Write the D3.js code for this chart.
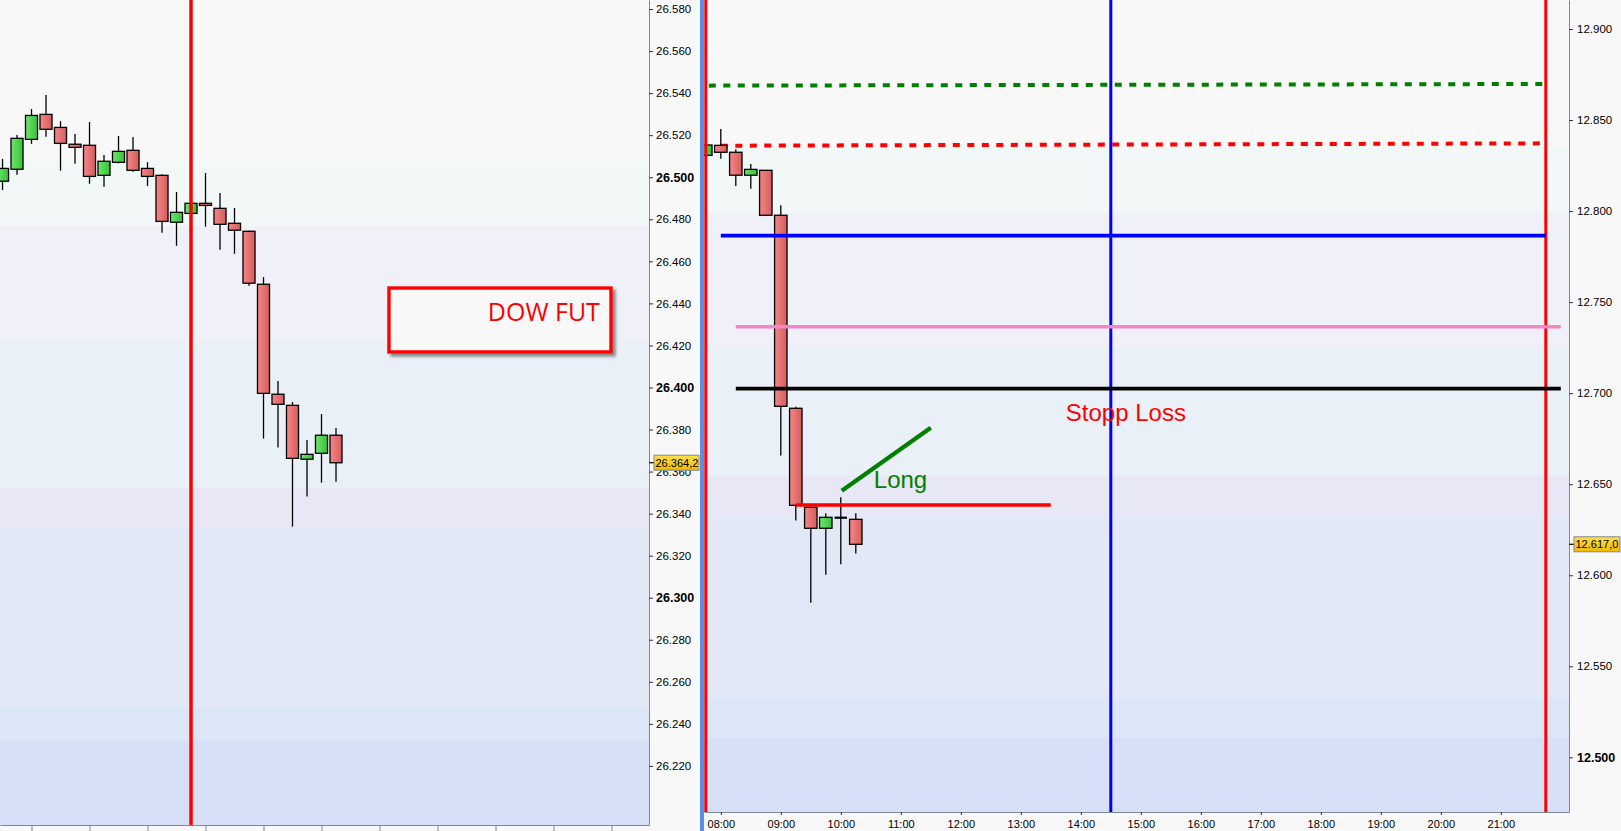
<!DOCTYPE html>
<html><head><meta charset="utf-8">
<script src="https://cdn.jsdelivr.net/npm/d3@7"></script>
<style>
html,body{margin:0;padding:0;background:#f8f8f8;overflow:hidden}
svg{display:block}
text{font-family:"Liberation Sans",Arial,sans-serif}
</style></head><body>
<svg id="c" width="1621" height="831"></svg>
<script>
// ---------------- DATA ----------------
// Left panel: DOW futures, 15-minute candles 04:30 .. 10:15
const leftStart = "04:30";
const leftOpen  = [26498.1,26503.8,26518.0,26529.9,26523.7,26515.7,26515.2,26500.9,26507.1,26512.8,26504.2,26500.9,26478.6,26482.8,26487.6,26485.2,26478.1,26474.3,26449.1,26396.8,26391.5,26365.9,26368.7,26377.3];
const leftHigh  = [26508.7,26520.1,26532.4,26539.1,26526.7,26520.6,26526.3,26510.6,26519.6,26519.1,26507.2,26501.4,26493.0,26488.0,26502.0,26492.5,26485.4,26474.5,26452.5,26403.1,26393.1,26375.0,26387.4,26380.7];
const leftLow   = [26493.9,26501.2,26515.9,26519.3,26503.1,26506.4,26496.9,26495.5,26506.6,26502.6,26495.8,26473.6,26467.4,26482.0,26476.5,26465.5,26463.6,26448.4,26375.7,26371.4,26333.8,26348.1,26354.7,26355.2];
const leftClose = [26504.2,26518.5,26529.4,26522.8,26516.1,26514.2,26500.4,26507.6,26512.3,26503.3,26500.4,26479.0,26483.3,26487.6,26486.6,26477.6,26474.8,26449.6,26397.2,26392.0,26366.3,26368.2,26377.3,26364.2];
const leftTicks = [26220,26240,26260,26280,26300,26320,26340,26360,26380,26400,26420,26440,26460,26480,26500,26520,26540,26560,26580];
const leftHourTicks = ["05:00","06:00","07:00","08:00","09:00","10:00","11:00","12:00","13:00","14:00","15:00"];
const leftLastPrice = 26364.2;
const leftBandBreaks = [26508, 26476.8, 26421.6, 26352.2, 26333.2, 26247.6, 26232.4];

// Right panel: 15-minute candles 07:45 .. 10:15
const rightStart = "07:45";
const rightOpen  = [12830.6,12836.1,12832.3,12819.7,12822.4,12797.7,12691.7,12637.3,12625.8,12631.6,12630.7];
const rightHigh  = [12837.0,12845.1,12833.9,12825.9,12822.4,12803.2,12692.6,12638.6,12634.0,12642.8,12634.0];
const rightLow   = [12830.0,12828.8,12813.8,12812.3,12797.7,12665.7,12630.0,12584.9,12600.3,12606.0,12612.0];
const rightClose = [12836.3,12832.3,12819.7,12822.9,12797.7,12692.8,12638.4,12625.8,12631.8,12631.6,12617.0];
const rightTicks = [12500,12550,12600,12650,12700,12750,12800,12850,12900];
const rightHourTicks = ["08:00","09:00","10:00","11:00","12:00","13:00","14:00","15:00","16:00","17:00","18:00","19:00","20:00","21:00"];
const rightLastPrice = 12617.0;
const rightBandBreaks = [12835.2, 12799, 12725.4, 12655, 12633, 12533, 12511];

const bandColors = ["#f8f8f8","#f1f8f7","#f0f0f9","#eaf0f8","#e8e7f5","#e3e8f6","#dbe6f6","#d8e0f7"];

// Drawn lines on the right panel: [t0, v0, t1, v1]
const greenDashed = ["07:48", 12868.9, "21:42", 12869.8];
const redDashed   = ["08:00", 12835.9, "21:41", 12837.2];
const blueLevel   = ["08:00", 12786.5, "21:45", 12786.5];
const pinkLevel   = ["08:15", 12736.5, "22:00", 12736.5];
const blackLevel  = ["08:15", 12702.5, "22:00", 12702.5];
const redLevel    = ["09:15", 12638.6, "13:30", 12638.6];
const greenTrend  = ["10:01", 12646.4, "11:30", 12681.0];
const rightVLines = [["07:45","#ff0000"],["14:30","#0000ff"],["21:45","#ff0000"]];
const leftVLines  = [["07:45","#ff0000"]];
// Text annotations: [time, value, text]
const longLabel  = ["10:33", 12647.9, "Long"];
const stopLabel  = ["13:45", 12684.7, "Stopp Loss"];
const dowBox     = ["11:09:48", 26447.3, "14:59:30", 26416.9];
const dowLabel   = ["14:48:00", 26431.6, "DOW FUT"];

// ---------------- SETUP ----------------
const P = d3.timeParse("%H:%M:%S");
const T = s => P(s.length === 5 ? s + ":00" : s);
const locale = d3.formatLocale({decimal: ",", thousands: ".", grouping: [3], currency: ["", ""]});
const fmtTick = locale.format(",.0f");
const fmtPrice = locale.format(",.1f");
const axisCol = "#7a8b98";

const svg = d3.select("#c");
const defs = svg.append("defs");

function grad(id, c0, c1, vertical) {
  const g = defs.append("linearGradient").attr("id", id)
    .attr("x1", 0).attr("y1", 0).attr("x2", vertical ? 0 : 1).attr("y2", vertical ? 1 : 0);
  g.append("stop").attr("offset", "0%").attr("stop-color", c0);
  g.append("stop").attr("offset", "100%").attr("stop-color", c1);
}
grad("gRed", "#f58787", "#d45d5d");
grad("gGreen", "#70e470", "#36c236");
grad("gYellow", "#ffdf4a", "#efb900", true);
const sh = defs.append("filter").attr("id", "shadow").attr("x", "-10%").attr("y", "-10%").attr("width", "130%").attr("height", "140%");
sh.append("feDropShadow").attr("dx", 3).attr("dy", 3).attr("stdDeviation", 1.6).attr("flood-color", "#404040").attr("flood-opacity", 0.6);

// Scales
const xL = d3.scaleTime().domain([T("04:27:24"), T("15:38:48")]).range([0, 649]);
const yL = d3.scaleLinear().domain([26191.9, 26584.3]).range([825, 0]);
const xR = d3.scaleTime().domain([T("07:43:12"), T("22:08:12")]).range([704, 1569]);
const yR = d3.scaleLinear().domain([12469.97, 12915.93]).range([812, 0]);

function clip(id, x, y, w, h) {
  defs.append("clipPath").attr("id", id).append("rect").attr("x", x).attr("y", y).attr("width", w).attr("height", h);
}
clip("clipL", 0, 0, 649, 825);
clip("clipR", 704, 0, 865, 812);

function bands(g, y, breaks, x0, x1) {
  const [lo, hi] = y.domain();
  const edges = [hi, ...breaks, lo];
  for (let i = 0; i < edges.length - 1; i++) {
    g.append("rect").attr("x", x0).attr("width", x1 - x0)
      .attr("y", y(edges[i])).attr("height", y(edges[i + 1]) - y(edges[i]))
      .attr("fill", bandColors[i]);
  }
}

function candles(g, start, O, H, L, C, x, y) {
  const t0 = T(start);
  const times = O.map((_, i) => d3.timeMinute.offset(t0, 15 * i));
  const step = x(times[1]) - x(times[0]);
  const w = step * 0.83;
  times.forEach((t, i) => {
    const cx = x(t);
    g.append("line").attr("x1", cx).attr("x2", cx).attr("y1", y(H[i])).attr("y2", y(L[i]))
      .attr("stroke", "#000").attr("stroke-width", 1.3);
    if (O[i] === C[i]) {
      g.append("line").attr("x1", cx - w / 2).attr("x2", cx + w / 2).attr("y1", y(O[i])).attr("y2", y(O[i]))
        .attr("stroke", "#000").attr("stroke-width", 2.2);
    } else {
      const top = y(Math.max(O[i], C[i])), bot = y(Math.min(O[i], C[i]));
      g.append("rect").attr("x", cx - w / 2).attr("width", w).attr("y", top).attr("height", Math.max(bot - top, 1))
        .attr("fill", C[i] > O[i] ? "url(#gGreen)" : "url(#gRed)")
        .attr("stroke", "#000").attr("stroke-width", 1.3);
    }
  });
}

function styleYAxis(g, boldTest) {
  g.select(".domain").attr("stroke", axisCol);
  g.selectAll(".tick line").attr("stroke", "#333");
  g.selectAll(".tick text").attr("fill", "#000")
    .style("font-size", d => boldTest(d) ? "12.5px" : "11.5px")
    .style("font-weight", d => boldTest(d) ? "bold" : "normal")
    .style("font-family", '"Liberation Sans",Arial,sans-serif');
}

// ---------------- LEFT PANEL ----------------
const gLbg = svg.append("g");
bands(gLbg, yL, leftBandBreaks, 0, 649);
const gL = svg.append("g").attr("clip-path", "url(#clipL)");
candles(gL, leftStart, leftOpen, leftHigh, leftLow, leftClose, xL, yL);
leftVLines.forEach(([t, col]) => {
  gL.append("line").attr("x1", xL(T(t))).attr("x2", xL(T(t))).attr("y1", 0).attr("y2", 825)
    .attr("stroke", col).attr("stroke-width", 3.5);
});

// DOW FUT box
svg.append("rect")
  .attr("x", xL(T(dowBox[0]))).attr("y", yL(dowBox[1]))
  .attr("width", xL(T(dowBox[2])) - xL(T(dowBox[0]))).attr("height", yL(dowBox[3]) - yL(dowBox[1]))
  .attr("fill", "#f8f8f8").attr("stroke", "#ff0000").attr("stroke-width", 3.4)
  .attr("filter", "url(#shadow)");
svg.append("text").attr("x", xL(T(dowLabel[0]))).attr("y", yL(dowLabel[1]))
  .attr("text-anchor", "end").attr("fill", "#ff0000")
  .style("font-family", '"Open Sans","Noto Sans",sans-serif').style("font-size", "25px")
  .text(dowLabel[2]);

// Left axes
const axL = svg.append("g").attr("transform", "translate(649,0)")
  .call(d3.axisRight(yL).tickValues(leftTicks).tickFormat(fmtTick).tickSize(4).tickSizeOuter(0).tickPadding(3));
styleYAxis(axL, d => d % 100 === 0);
const axLb = svg.append("g").attr("transform", "translate(0,825)")
  .call(d3.axisBottom(xL).tickValues(leftHourTicks.map(T)).tickFormat("").tickSize(6).tickSizeOuter(0));
axLb.select(".domain").attr("stroke", axisCol);
axLb.selectAll(".tick line").attr("stroke", axisCol);

// Last price tags
function priceTag(x0, yv, w, label) {
  svg.append("line").attr("x1", x0 - 5).attr("x2", x0).attr("y1", yv).attr("y2", yv).attr("stroke", "#000").attr("stroke-width", 1.2);
  svg.append("rect").attr("x", x0).attr("y", yv - 7.5).attr("width", w).attr("height", 15)
    .attr("fill", "url(#gYellow)").attr("stroke", "#7d8a96").attr("stroke-width", 1);
  svg.append("text").attr("x", x0 + 1.5).attr("y", yv).attr("dy", "0.36em").attr("fill", "#000")
    .style("font-size", "11px").text(label);
}
priceTag(654, yL(leftLastPrice), 45, fmtPrice(leftLastPrice));

// ---------------- RIGHT PANEL ----------------
svg.append("rect").attr("x", 700).attr("y", 0).attr("width", 4).attr("height", 831).attr("fill", "#5b8ee6");
const gRbg = svg.append("g");
bands(gRbg, yR, rightBandBreaks, 704, 1569);
const gR = svg.append("g").attr("clip-path", "url(#clipR)");

function seg(g, s, col, w, dash) {
  const l = g.append("line")
    .attr("x1", xR(T(s[0]))).attr("y1", yR(s[1])).attr("x2", xR(T(s[2]))).attr("y2", yR(s[3]))
    .attr("stroke", col).attr("stroke-width", w);
  if (dash) l.attr("stroke-dasharray", dash);
  return l;
}
seg(gR, greenDashed, "#008000", 4, "7,7.5");
seg(gR, redDashed, "#ff0000", 4, "7,7.5");

candles(gR, rightStart, rightOpen, rightHigh, rightLow, rightClose, xR, yR);

rightVLines.forEach(([t, col]) => {
  gR.append("line").attr("x1", xR(T(t))).attr("x2", xR(T(t))).attr("y1", 0).attr("y2", 812)
    .attr("stroke", col).attr("stroke-width", 3);
});

seg(gR, blueLevel, "#0000ff", 3.6);
seg(gR, pinkLevel, "#f386c4", 3.6);
seg(gR, blackLevel, "#000000", 3.6);
seg(gR, redLevel, "#ff0000", 3.6);
seg(gR, greenTrend, "#008000", 4.2).attr("stroke-linecap", "butt");

svg.append("text").attr("x", xR(T(longLabel[0]))).attr("y", yR(longLabel[1]))
  .attr("fill", "#008000").style("font-size", "24px").text(longLabel[2]);
svg.append("text").attr("x", xR(T(stopLabel[0]))).attr("y", yR(stopLabel[1]))
  .attr("fill", "#ff0000").style("font-size", "24px").text(stopLabel[2]);

// Right axes
const axR = svg.append("g").attr("transform", "translate(1569,0)")
  .call(d3.axisRight(yR).tickValues(rightTicks).tickFormat(fmtTick).tickSize(4).tickSizeOuter(0).tickPadding(4));
styleYAxis(axR, d => d % 500 === 0);
const axRb = svg.append("g").attr("transform", "translate(0,812)")
  .call(d3.axisBottom(xR).tickValues(rightHourTicks.map(T)).tickFormat(d3.timeFormat("%H:%M")).tickSize(3).tickSizeOuter(0).tickPadding(5));
axRb.select(".domain").attr("stroke", axisCol);
axRb.selectAll(".tick line").attr("stroke", "#333");
axRb.selectAll(".tick text").attr("fill", "#000").style("font-size", "11px")
  .style("font-family", '"Liberation Sans",Arial,sans-serif');

priceTag(1574, yR(rightLastPrice), 46, fmtPrice(rightLastPrice));
</script></body></html>
